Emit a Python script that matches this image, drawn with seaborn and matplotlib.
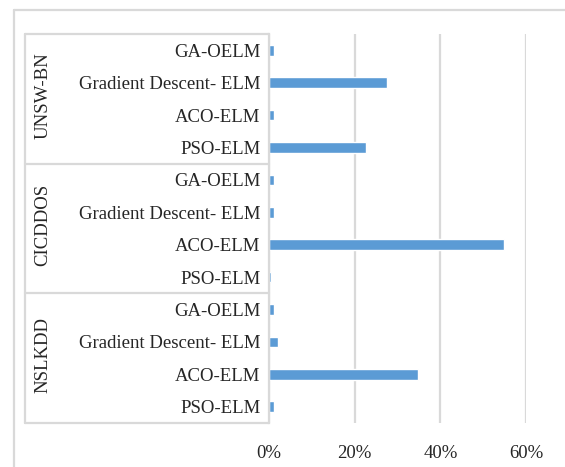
import numpy as np
import pandas as pd
import seaborn as sns
import matplotlib.pyplot as plt
from matplotlib.lines import Line2D
from matplotlib.transforms import blended_transform_factory
from matplotlib.ticker import PercentFormatter

# data (fractions)
groups = ["UNSW-BN", "CICDDOS", "NSLKDD"]
methods = ["GA-OELM", "Gradient Descent- ELM", "ACO-ELM", "PSO-ELM"]
unsw = [0.012, 0.275, 0.012, 0.227]
cicddos = [0.012, 0.012, 0.549, 0.005]
nslkdd = [0.012, 0.021, 0.347, 0.012]
xticks = [0, 0.2, 0.4, 0.6]

df = pd.DataFrame({
    "group": np.repeat(groups, len(methods)),
    "method": methods * len(groups),
    "value": unsw + cicddos + nslkdd,
})
df["key"] = df["group"] + "|" + df["method"]

sns.set_style("white")
plt.rcParams["font.family"] = ["Liberation Serif", "DejaVu Serif"]

grey = "#d9d9d9"
fig = plt.figure(figsize=(5.65, 4.67), dpi=100)
ax = fig.add_axes([269 / 565, 44 / 467, 257 / 565, 389 / 467])

sns.barplot(data=df, x="value", y="key", order=list(df["key"]),
            color="#5b9bd5", width=0.33, saturation=1, ax=ax)

ax.set_xlim(0, 0.6)
ax.set_ylim(11.5, -0.5)
ax.set_xticks(xticks)
ax.xaxis.set_major_formatter(PercentFormatter(1.0, decimals=0))
ax.set_yticklabels(df["method"])
ax.set_xlabel("")
ax.set_ylabel("")
ax.tick_params(axis="y", length=0, pad=6, labelsize=13.5, colors="#262626")
ax.tick_params(axis="x", length=0, pad=16, labelsize=13.5, colors="#262626")
ax.grid(axis="x", color=grey, linewidth=1.6)
ax.set_axisbelow(True)
for s in ["top", "right", "bottom"]:
    ax.spines[s].set_visible(False)
ax.spines["left"].set_color(grey)
ax.spines["left"].set_linewidth(1.6)

# table-like grouping box left of the axis
tr = blended_transform_factory(ax.transAxes, ax.transData)
x_left = (25 - 269) / 257
for yy in [-0.5, 3.5, 7.5, 11.5]:
    ax.add_line(Line2D([x_left, 0], [yy, yy], transform=tr, color=grey,
                       linewidth=1.6, clip_on=False))
ax.add_line(Line2D([x_left, x_left], [-0.5, 11.5], transform=tr, color=grey,
                   linewidth=1.6, clip_on=False))
for i, g in enumerate(groups):
    ax.text((43 - 269) / 257, 4 * i + 1.4, g, transform=tr, rotation=90,
            ha="center", va="center", fontsize=13.5, color="#262626")

# outer chart border
fig.add_artist(Line2D([14 / 565, 14 / 565], [0, 1 - 10 / 467], color=grey,
                      linewidth=1.6, transform=fig.transFigure))
fig.add_artist(Line2D([14 / 565, 1], [1 - 10 / 467, 1 - 10 / 467], color=grey,
                      linewidth=1.6, transform=fig.transFigure))

fig.savefig("out.png", dpi=100)
